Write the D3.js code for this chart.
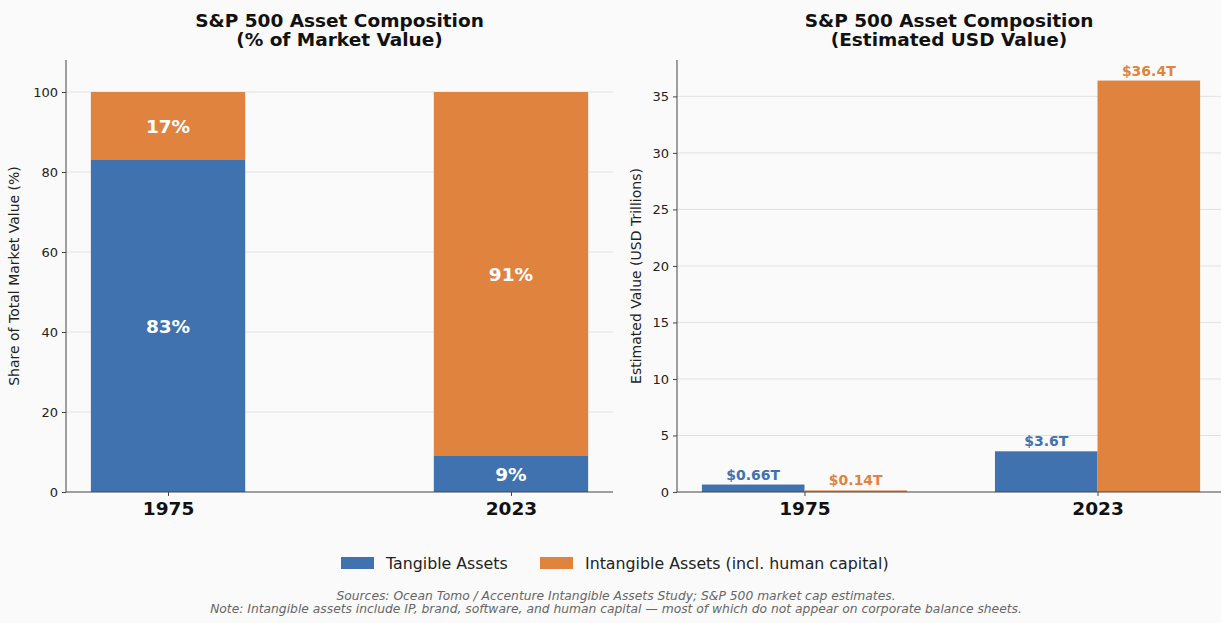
<!DOCTYPE html>
<html>
<head>
<meta charset="utf-8">
<script src="https://cdn.jsdelivr.net/npm/d3@7"></script>
<style>
  body { margin: 0; background: #fafafa; }
  svg { display: block; font-family: "DejaVu Sans", sans-serif; }
</style>
</head>
<body>
<div id="chart"></div>
<script>
// data
var years = ["1975", "2023"];
var series = ["Tangible Assets", "Intangible Assets (incl. human capital)"];
var sharePct = [[83, 9], [17, 91]];          // [series][year]
var usdTrillions = [[0.66, 3.6], [0.14, 36.4]];
var usdLabels = [["$0.66T", "$3.6T"], ["$0.14T", "$36.4T"]];
var pctTicks = [0, 20, 40, 60, 80, 100];
var usdTicks = [0, 5, 10, 15, 20, 25, 30, 35];
var colors = ["#4072b0", "#e0833f"];

var width = 1221, height = 623;
var svg = d3.select("#chart").append("svg").attr("width", width).attr("height", height);
svg.append("rect").attr("width", width).attr("height", height).attr("fill", "#fafafa");

function spines(g, x0, x1, y0, y1) {
    g.append("line").attr("x1", x0).attr("x2", x0).attr("y1", y0).attr("y2", y1).attr("stroke", "#444").attr("stroke-width", 1);
    g.append("line").attr("x1", x0).attr("x2", x1).attr("y1", y1).attr("y2", y1).attr("stroke", "#444").attr("stroke-width", 1);
}

function yAxis(g, y, ticks, left, right) {
    g.selectAll(".grid").data(ticks.filter(function (t) { return t > 0; })).enter().append("line")
        .attr("x1", left).attr("x2", right)
        .attr("y1", function (d) { return y(d); }).attr("y2", function (d) { return y(d); })
        .attr("stroke", "#e2e2e2").attr("stroke-width", 1);
    var ax = g.append("g").attr("transform", "translate(" + left + ",0)")
        .call(d3.axisLeft(y).tickValues(ticks).tickSize(4).tickPadding(4));
    ax.select(".domain").remove();
    ax.selectAll("line").attr("stroke", "#444");
    ax.selectAll("text").attr("font-size", 13).attr("fill", "#222").attr("font-family", "DejaVu Sans");
}

function xAxis(g, x, bottom) {
    var ax = g.append("g").attr("transform", "translate(0," + bottom + ")")
        .call(d3.axisBottom(x).tickValues([0, 1]).tickFormat(function (d) { return years[d]; }).tickSize(4).tickPadding(6));
    ax.select(".domain").remove();
    ax.selectAll("line").attr("stroke", "#444");
    ax.selectAll("text").attr("font-size", 18.5).attr("font-weight", "bold").attr("fill", "#111").attr("font-family", "DejaVu Sans");
}

function title(g, cx, lines) {
    var t = g.append("text").attr("text-anchor", "middle").attr("font-size", 18.5).attr("font-weight", "bold").attr("fill", "#111");
    lines.forEach(function (l, i) {
        t.append("tspan").attr("x", cx).attr("y", 26.5 + i * 19.5).text(l);
    });
}

function yLabel(g, x, cy, txt) {
    g.append("text").attr("transform", "translate(" + x + "," + cy + ") rotate(-90)")
        .attr("text-anchor", "middle").attr("font-size", 14).attr("fill", "#222").text(txt);
}

// ---- left panel: stacked percentage ----
var L = { left: 66, right: 613, top: 60, bottom: 492 };
var xL = d3.scaleLinear().domain([-0.2975, 1.2975]).range([L.left, L.right]);
var yL = d3.scaleLinear().domain([0, 108]).range([L.bottom, L.top]);
var gL = svg.append("g");
yAxis(gL, yL, pctTicks, L.left, L.right);
var bwL = 0.45;
years.forEach(function (yr, i) {
    var base = 0;
    series.forEach(function (s, k) {
        var v = sharePct[k][i];
        gL.append("rect")
            .attr("x", xL(i - bwL / 2)).attr("width", xL(i + bwL / 2) - xL(i - bwL / 2))
            .attr("y", yL(base + v)).attr("height", yL(base) - yL(base + v))
            .attr("fill", colors[k]);
        gL.append("text").attr("x", xL(i)).attr("y", yL(base + v / 2)).attr("dy", "0.36em")
            .attr("text-anchor", "middle").attr("font-size", 18.5).attr("font-weight", "bold")
            .attr("fill", "#fff").text(v + "%");
        base += v;
    });
});
spines(gL, L.left, L.right, L.top, L.bottom);
xAxis(gL, xL, L.bottom);
title(gL, (L.left + L.right) / 2, ["S&P 500 Asset Composition", "(% of Market Value)"]);
yLabel(gL, 19, (L.top + L.bottom) / 2, "Share of Total Market Value (%)");

// ---- right panel: grouped USD ----
var R = { left: 677, right: 1225, top: 60, bottom: 492 };
var xR = d3.scaleLinear().domain([-0.435, 1.435]).range([R.left, R.right]);
var yR = d3.scaleLinear().domain([0, 38.22]).range([R.bottom, R.top]);
var gR = svg.append("g");
yAxis(gR, yR, usdTicks, R.left, R.right);
var bwR = 0.35;
years.forEach(function (yr, i) {
    series.forEach(function (s, k) {
        var v = usdTrillions[k][i];
        var x0 = k === 0 ? i - bwR : i;
        gR.append("rect")
            .attr("x", xR(x0)).attr("width", xR(x0 + bwR) - xR(x0))
            .attr("y", yR(v)).attr("height", yR(0) - yR(v))
            .attr("fill", colors[k]);
        gR.append("text").attr("x", xR(x0 + bwR / 2)).attr("y", yR(v) - 5)
            .attr("text-anchor", "middle").attr("font-size", 14).attr("font-weight", "bold")
            .attr("fill", colors[k]).text(usdLabels[k][i]);
    });
});
spines(gR, R.left, R.right, R.top, R.bottom);
xAxis(gR, xR, R.bottom);
title(gR, (R.left + 1221) / 2, ["S&P 500 Asset Composition", "(Estimated USD Value)"]);
yLabel(gR, 641, (R.top + R.bottom) / 2, "Estimated Value (USD Trillions)");

// ---- legend ----
var leg = svg.append("g");
var legX = [341, 540];
series.forEach(function (s, k) {
    leg.append("rect").attr("x", legX[k]).attr("y", 557).attr("width", 33).attr("height", 12).attr("fill", colors[k]);
    leg.append("text").attr("x", legX[k] + 45).attr("y", 568.5)
        .attr("font-size", 15.8).attr("fill", "#222").text(s);
});

// ---- footer ----
var notes = ["Sources: Ocean Tomo / Accenture Intangible Assets Study; S&P 500 market cap estimates.",
    "Note: Intangible assets include IP, brand, software, and human capital \u2014 most of which do not appear on corporate balance sheets."];
notes.forEach(function (n, i) {
    svg.append("text").attr("x", 616).attr("y", 600 + i * 12.5)
        .attr("text-anchor", "middle").attr("font-size", 12.3).attr("font-style", "italic")
        .attr("fill", "#666").text(n);
});
</script>
</body>
</html>
